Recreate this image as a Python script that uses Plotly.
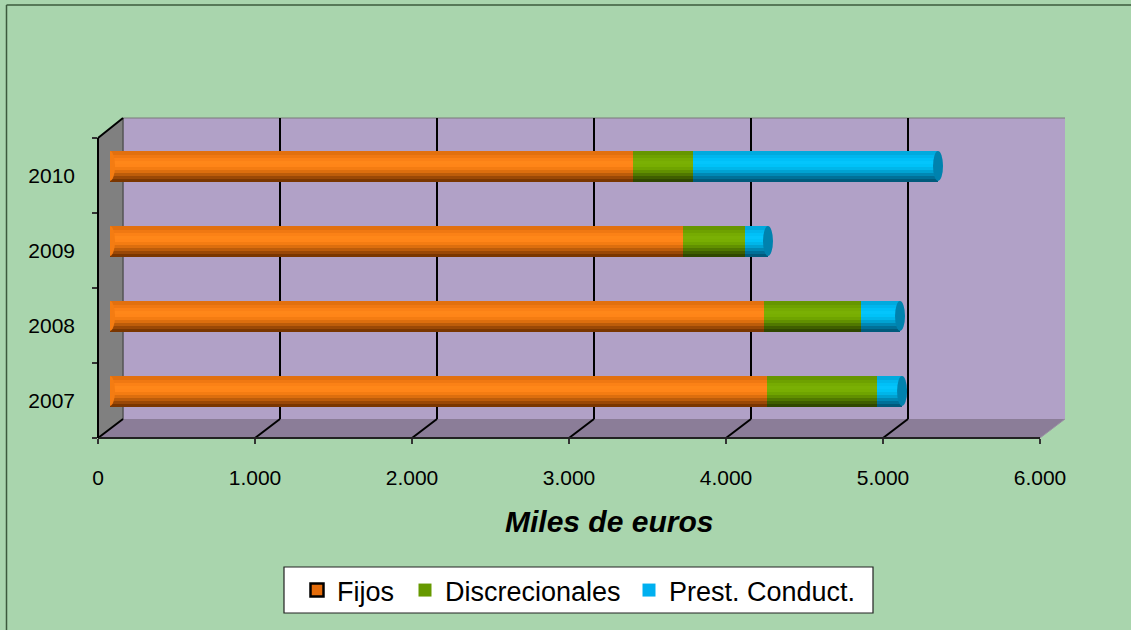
import numpy as np
import plotly.graph_objects as go

# ---- data (thousands of euros) ----
years = ["2007", "2008", "2009", "2010"]
fijos = [4185, 4166, 3650, 3331]
discrecionales = [700, 617, 395, 382]
prest_conduct = [160, 249, 146, 1561]

series_names = ["Fijos", "Discrecionales", "Prest. Conduct."]
x_ticks = [0, 1000, 2000, 3000, 4000, 5000, 6000]
x_tick_text = ["0", "1.000", "2.000", "3.000", "4.000", "5.000", "6.000"]

W, H = 1131, 630
FONT = "Liberation Sans, Arial, sans-serif"

# vertical shading of each cylinder, bottom -> top
shades = {
    "Fijos": ["#7A3600", "#9A4806", "#BC5C0A", "#DC6E0E", "#F47C12",
              "#FF8518", "#FF8719", "#FB8116", "#F07812", "#E2700E"],
    "Discrecionales": ["#304800", "#3F5E00", "#507800", "#619000", "#6FA400",
                       "#78AE02", "#7AB004", "#76AB02", "#6EA100", "#669600"],
    "Prest. Conduct.": ["#005A7C", "#007098", "#0088B4", "#00A2D2", "#00B6EA",
                        "#00C2F8", "#04C5FC", "#00C0F8", "#00B6EE", "#00AADE"],
}
cap_color = "#0082AE"
start_color = "#F47C12"
legend_colors = {"Fijos": "#E46C0A", "Discrecionales": "#669900", "Prest. Conduct.": "#00B0F0"}
legend_ids = {"Fijos": "legend", "Discrecionales": "legend2", "Prest. Conduct.": "legend3"}
legend_left = {"Fijos": 297, "Discrecionales": 405, "Prest. Conduct.": 629}


def px(x):
    return x / W


def py(y):
    return 1 - y / H


# geometry of the 3-D box (pixels)
front_l, front_r = 98, 1040
back_l, back_r = 123, 1065
top_front, bot_front = 138, 438
top_back, bot_back = 118, 419
bar_shift_y = 9.5
bar_w = 0.40

fig = go.Figure()

values = [fijos, discrecionales, prest_conduct]
bases = np.cumsum([[0] * 4] + values[:-1], axis=0)
totals = np.sum(values, axis=0)

# cylinder-like bars: stacked horizontal bands of graded colour
for name, vals, base in zip(series_names, values, bases):
    cols = shades[name]
    n = len(cols)
    band = bar_w / n
    for k, c in enumerate(cols):
        fig.add_trace(go.Bar(
            y=years, x=vals, base=list(base), orientation="h",
            marker=dict(color=c, line=dict(width=0)),
            offset=-bar_w / 2 + k * band, width=band * 1.08,
            showlegend=False, hoverinfo="skip", xaxis="x", yaxis="y",
        ))

# legend entries, one legend per series so each can be placed freely
for name in series_names:
    fig.add_trace(go.Scatter(
        y=[None], x=[None], mode="markers", name=name,
        legend=legend_ids[name],
        marker=dict(symbol="square", size=13, color=legend_colors[name],
                    line=dict(color="black", width=2.5 if name == "Fijos" else 0)),
        xaxis="x", yaxis="y",
    ))

shapes = []
# walls
shapes.append(dict(type="rect", xref="paper", yref="paper", layer="below",
                   x0=px(back_l), x1=px(back_r), y0=py(bot_back), y1=py(top_back),
                   fillcolor="#B1A1C7", line=dict(width=0)))
shapes.append(dict(type="path", xref="paper", yref="paper", layer="below",
                   path=f"M {px(front_l)} {py(bot_front)} L {px(front_r)} {py(bot_front)} "
                        f"L {px(back_r)} {py(bot_back)} L {px(back_l)} {py(bot_back)} Z",
                   fillcolor="#8B7D98", line=dict(width=0)))
shapes.append(dict(type="path", xref="paper", yref="paper", layer="below",
                   path=f"M {px(front_l)} {py(top_front)} L {px(back_l)} {py(top_back)} "
                        f"L {px(back_l)} {py(bot_back)} L {px(front_l)} {py(bot_front)} Z",
                   fillcolor="#808080", line=dict(width=0)))
# thin wall edges
shapes.append(dict(type="line", xref="paper", yref="paper", layer="below",
                   x0=px(back_l), x1=px(back_r), y0=py(top_back), y1=py(top_back),
                   line=dict(color="#7A7A7A", width=1)))
shapes.append(dict(type="line", xref="paper", yref="paper", layer="below",
                   x0=px(back_l), x1=px(back_l), y0=py(top_back), y1=py(bot_back),
                   line=dict(color="#555555", width=1.5)))
shapes.append(dict(type="line", xref="paper", yref="paper", layer="below",
                   x0=px(front_r), x1=px(back_r), y0=py(bot_front), y1=py(bot_back),
                   line=dict(color="#9A8FA4", width=1)))

# gridlines on back wall and floor
step_back = (back_r - back_l) / 6000
step_front = (front_r - front_l) / 6000
for t in x_ticks[:-1]:
    xb = back_l + t * step_back
    xf = front_l + t * step_front
    if t > 0:
        shapes.append(dict(type="line", xref="paper", yref="paper", layer="below",
                           x0=px(xb), x1=px(xb), y0=py(bot_back), y1=py(top_back),
                           line=dict(color="black", width=2)))
    shapes.append(dict(type="line", xref="paper", yref="paper", layer="below",
                       x0=px(xb), x1=px(xf), y0=py(bot_back), y1=py(bot_front),
                       line=dict(color="black", width=2)))

# front axis lines
shapes.append(dict(type="line", xref="paper", yref="paper",
                   x0=px(front_l), x1=px(front_r), y0=py(bot_front), y1=py(bot_front),
                   line=dict(color="#222222", width=2)))
shapes.append(dict(type="line", xref="paper", yref="paper",
                   x0=px(front_l), x1=px(front_l), y0=py(bot_front), y1=py(top_front),
                   line=dict(color="black", width=2)))
shapes.append(dict(type="line", xref="paper", yref="paper",
                   x0=px(front_l), x1=px(back_l), y0=py(top_front), y1=py(top_back),
                   line=dict(color="black", width=2)))

# cylinder caps (left start and right end of each bar)
for i, yr in enumerate(years):
    shapes.append(dict(type="circle", xref="x", yref="y", xsizemode="pixel",
                       xanchor=0, x0=-5, x1=5, y0=i - bar_w / 2, y1=i + bar_w / 2,
                       fillcolor=start_color, line=dict(width=0), layer="above"))
    shapes.append(dict(type="circle", xref="x", yref="y", xsizemode="pixel",
                       xanchor=float(totals[i]), x0=-5, x1=5,
                       y0=i - bar_w / 2, y1=i + bar_w / 2,
                       fillcolor=cap_color, line=dict(width=0), layer="above"))

# legend frame
shapes.append(dict(type="rect", xref="paper", yref="paper", layer="below",
                   x0=px(284), x1=px(873), y0=py(613), y1=py(567),
                   fillcolor="white", line=dict(color="#222222", width=1.2)))

# chart-area border (left and top edges)
shapes.append(dict(type="line", xref="paper", yref="paper",
                   x0=px(6.5), x1=px(6.5), y0=py(5), y1=0,
                   line=dict(color="#3C5A3C", width=1.5)))
shapes.append(dict(type="line", xref="paper", yref="paper",
                   x0=px(6.5), x1=1, y0=py(5), y1=py(5),
                   line=dict(color="#3C5A3C", width=1.5)))


def legend_box(name):
    return dict(orientation="h", x=px(legend_left[name]), y=py(590.5), xanchor="left",
                yanchor="middle", bgcolor="rgba(0,0,0,0)", borderwidth=0,
                font=dict(size=27, family=FONT), itemwidth=30)


fig.update_layout(
    width=W, height=H, autosize=False,
    margin=dict(l=0, r=0, t=0, b=0, pad=0, autoexpand=False),
    paper_bgcolor="#A9D5AD",
    plot_bgcolor="rgba(0,0,0,0)",
    barmode="overlay",
    bargap=0,
    font=dict(family=FONT, color="black"),
    shapes=shapes,
    xaxis=dict(domain=[px(110), px(1052)], range=[0, 6000], visible=False,
               anchor="y", fixedrange=True, automargin=False),
    yaxis=dict(domain=[py(bot_front - bar_shift_y), py(top_front - bar_shift_y)],
               type="category", categoryarray=years, range=[-0.5, 3.5],
               visible=False, anchor="x", automargin=False),
    xaxis2=dict(domain=[px(front_l), px(front_r)], range=[0, 6000],
                tickvals=x_ticks, ticktext=x_tick_text, anchor="y2",
                ticks="outside", ticklen=5, tickcolor="#333333", tickwidth=1.5,
                showgrid=False, zeroline=False, showline=False, automargin=False,
                tickfont=dict(size=21, family=FONT), ticklabelstandoff=16),
    yaxis2=dict(domain=[py(bot_front), py(top_front)], type="category",
                categoryarray=years, range=[-0.5, 3.5], anchor="x2",
                ticks="outside", ticklen=5, tickcolor="#333333", tickwidth=1.5,
                tickson="boundaries", showgrid=False, zeroline=False, showline=False,
                automargin=False,
                tickfont=dict(size=21, family=FONT), ticklabelstandoff=22),
    legend=legend_box("Fijos"),
    legend2=legend_box("Discrecionales"),
    legend3=legend_box("Prest. Conduct."),
    annotations=[dict(text="<b><i>Miles de euros</i></b>", xref="paper", yref="paper",
                      x=px(609), y=py(521), yanchor="middle", showarrow=False,
                      font=dict(size=30, family=FONT))],
)

# category labels for the front axis need a trace on x2/y2
fig.add_trace(go.Scatter(x=[None], y=[None], xaxis="x2", yaxis="y2",
                         showlegend=False, hoverinfo="skip"))

fig.write_html("out.html")
